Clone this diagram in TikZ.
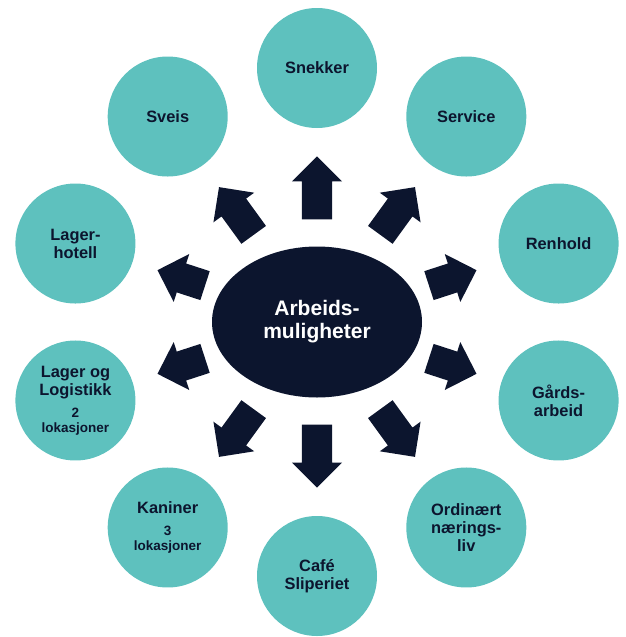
\documentclass[tikz,border=0pt]{standalone}
\usepackage{fontspec}
\setmainfont{Liberation Sans}
\usetikzlibrary{shapes.geometric,shapes.arrows}
\definecolor{navy}{HTML}{0C152E}
\definecolor{jobteal}{HTML}{5EC1BE}
\newcommand\smalltxt{\fontsize{13.5}{15}\selectfont}

\begin{document}
\begin{tikzpicture}[x=1pt,y=1pt,
	job/.style={circle, fill=jobteal, text=navy, minimum size=120, inner sep=0, align=center, font=\fontsize{16.4}{18}\selectfont\bfseries},
	blockarrow/.style={single arrow, fill=navy, draw=none, inner sep=0, inner ysep=15, minimum width=0, single arrow head extend=10, single arrow tip angle=90, anchor=tip}]
			%%%%% START %%%%%
			
			\useasboundingbox (0, 0) rectangle (626, -637);
			
			\node[ellipse, fill=navy, text=white, minimum width=210, minimum height=151, inner sep=0, align=center, font=\fontsize{21}{23}\selectfont\bfseries] (centre) at (317, -322) {Arbeids-\\muligheter};
			
			\node[job] (snekker) at ([shift={(90:254)}]centre) {Snekker};
			\node[job] (service) at ([shift={(54:254)}]centre) {Service};
			\node[job] (renhold) at ([shift={(18:254)}]centre) {Renhold};
			\node[job] (gard) at ([shift={(-18:254)}]centre) {Gårds-\\arbeid};
			\node[job] (naering) at ([shift={(-54:254)}]centre) {Ordinært\\nærings-\\liv};
			\node[job] (cafe) at ([shift={(-90:254)}]centre) {Café\\Sliperiet};
			\node[job] (kaniner) at ([shift={(-126:254)}]centre) {Kaniner\\[4pt]{\smalltxt 3}\\[-3pt]{\smalltxt lokasjoner}};
			\node[job] (logistikk) at ([shift={(-162:254)}]centre) {Lager og\\Logistikk\\[4pt]{\smalltxt 2}\\[-3pt]{\smalltxt lokasjoner}};
			\node[job] (hotell) at ([shift={(162:254)}]centre) {Lager-\\hotell};
			\node[job] (sveis) at ([shift={(126:254)}]centre) {Sveis};
			
			\node[blockarrow, minimum height=63, rotate=90] (arw1) at ([shift={(90:166)}]centre) {};
			\node[blockarrow, minimum height=59, rotate=54] (arw2) at ([shift={(54:167)}]centre) {};
			\node[blockarrow, minimum height=50, rotate=18] (arw3) at ([shift={(18:168)}]centre) {};
			\node[blockarrow, minimum height=50, rotate=-18] (arw4) at ([shift={(-18:168)}]centre) {};
			\node[blockarrow, minimum height=59, rotate=-54] (arw5) at ([shift={(-54:167)}]centre) {};
			\node[blockarrow, minimum height=63, rotate=-90] (arw6) at ([shift={(-90:166)}]centre) {};
			\node[blockarrow, minimum height=59, rotate=-126] (arw7) at ([shift={(-126:167)}]centre) {};
			\node[blockarrow, minimum height=50, rotate=-162] (arw8) at ([shift={(-162:168)}]centre) {};
			\node[blockarrow, minimum height=50, rotate=162] (arw9) at ([shift={(162:168)}]centre) {};
			\node[blockarrow, minimum height=59, rotate=126] (arw10) at ([shift={(126:167)}]centre) {};
			
			%%%%% END %%%%%
\end{tikzpicture}
\end{document}
